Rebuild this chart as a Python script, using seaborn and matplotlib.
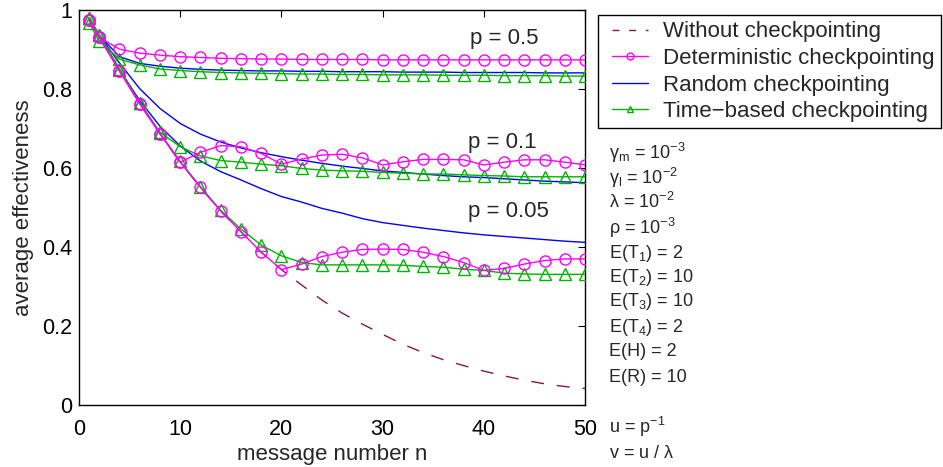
import numpy as np
import pandas as pd
import matplotlib
matplotlib.use("Agg")
import matplotlib.pyplot as plt
from matplotlib.lines import Line2D
from matplotlib.patches import Rectangle
import seaborn as sns

# ---------------- data ----------------
n = [1, 2, 4, 6, 8, 10, 12, 14, 16, 18, 20, 22, 24, 26, 28, 30, 32, 34, 36, 38, 40, 42, 44, 46, 48, 50]

without = [0.975, 0.93, 0.845, 0.762, 0.686, 0.614, 0.55, 0.49, 0.438, 0.386, 0.342, 0.303, 0.265,
           0.232, 0.204, 0.178, 0.153, 0.132, 0.114, 0.099, 0.085, 0.073, 0.062, 0.053, 0.046, 0.041]

det_p05 = [0.975, 0.93, 0.90, 0.89, 0.885, 0.881, 0.879, 0.877, 0.876, 0.875, 0.875, 0.874, 0.874,
           0.874, 0.874, 0.873, 0.873, 0.873, 0.873, 0.873, 0.873, 0.873, 0.873, 0.873, 0.873, 0.873]
rnd_p05 = [0.975, 0.935, 0.881, 0.864, 0.857, 0.852, 0.849, 0.847, 0.846, 0.845, 0.845, 0.844, 0.844,
           0.843, 0.843, 0.843, 0.842, 0.842, 0.842, 0.841, 0.841, 0.841, 0.841, 0.840, 0.840, 0.840]
tim_p05 = [0.966, 0.92, 0.875, 0.86, 0.85, 0.846, 0.843, 0.841, 0.840, 0.839, 0.838, 0.837, 0.837,
           0.836, 0.836, 0.835, 0.835, 0.835, 0.834, 0.834, 0.834, 0.833, 0.833, 0.833, 0.832, 0.832]

det_p01 = [0.975, 0.93, 0.845, 0.762, 0.686, 0.614, 0.639, 0.656, 0.653, 0.636, 0.609, 0.622, 0.632,
           0.634, 0.625, 0.607, 0.615, 0.621, 0.621, 0.620, 0.607, 0.614, 0.620, 0.620, 0.614, 0.607]
rnd_p01 = [0.975, 0.935, 0.865, 0.80, 0.75, 0.712, 0.685, 0.665, 0.65, 0.638, 0.628, 0.619, 0.611,
           0.604, 0.598, 0.592, 0.588, 0.584, 0.58, 0.577, 0.575, 0.572, 0.569, 0.566, 0.564, 0.562]
tim_p01 = [0.98, 0.936, 0.85, 0.765, 0.69, 0.653, 0.63, 0.618, 0.614, 0.609, 0.605, 0.598, 0.594,
           0.592, 0.591, 0.588, 0.586, 0.584, 0.584, 0.582, 0.58, 0.579, 0.577, 0.577, 0.577, 0.577]

det_p005 = [0.975, 0.93, 0.845, 0.762, 0.686, 0.614, 0.55, 0.49, 0.438, 0.386, 0.342, 0.356, 0.375,
            0.386, 0.393, 0.394, 0.393, 0.386, 0.375, 0.36, 0.34, 0.345, 0.356, 0.365, 0.369, 0.369]
rnd_p005 = [0.975, 0.932, 0.848, 0.77, 0.705, 0.655, 0.617, 0.59, 0.569, 0.547, 0.527, 0.513, 0.497,
            0.485, 0.471, 0.461, 0.454, 0.447, 0.441, 0.435, 0.43, 0.426, 0.422, 0.418, 0.414, 0.411]
tim_p005 = [0.98, 0.936, 0.848, 0.764, 0.687, 0.616, 0.552, 0.492, 0.445, 0.404, 0.377, 0.36, 0.354,
            0.354, 0.354, 0.354, 0.353, 0.35, 0.348, 0.343, 0.34, 0.333, 0.331, 0.33, 0.33, 0.33]

legend_labels = ["Without checkpointing", "Deterministic checkpointing",
                 "Random checkpointing", "Time\u2212based checkpointing"]
p_labels = ["p = 0.5", "p = 0.1", "p = 0.05"]
param_lines = [
    r"$\mathrm{\gamma_m}$ = 10$^{\mathrm{-3}}$",
    r"$\mathrm{\gamma_l}$ = 10$^{\mathrm{-2}}$",
    r"$\mathrm{\lambda}$ = 10$^{\mathrm{-2}}$",
    r"$\mathrm{\rho}$ = 10$^{\mathrm{-3}}$",
    r"E(T$_{\mathrm{1}}$) = 2",
    r"E(T$_{\mathrm{2}}$) = 10",
    r"E(T$_{\mathrm{3}}$) = 10",
    r"E(T$_{\mathrm{4}}$) = 2",
    "E(H) = 2",
    "E(R) = 10",
    r"u = p$^{\mathrm{-1}}$",
    r"v = u / $\mathrm{\lambda}$",
]

# ---------------- style ----------------
sns.set_theme(style="white")
plt.rcParams["font.family"] = ["Liberation Sans", "DejaVu Sans"]
plt.rcParams["mathtext.fontset"] = "custom"
plt.rcParams["mathtext.rm"] = "Liberation Sans"
plt.rcParams["mathtext.it"] = "Liberation Sans:italic"
plt.rcParams["mathtext.bf"] = "Liberation Sans:bold"
plt.rcParams["axes.unicode_minus"] = True

C_WO = "#851745"
C_DET = "#FF00FF"
C_RND = "#0000FF"
C_TIM = "#00B400"
DASH = (0, (9.3, 9.3))

W, H = 943, 467
fig = plt.figure(figsize=(W / 100, H / 100), dpi=100)
ax = fig.add_axes([79 / W, 1 - 404.7 / H, (585 - 79) / W, (404.7 - 9.7) / H])

mk = dict(markersize=8, fillstyle="none", markeredgewidth=1.0)

# without checkpointing
sns.lineplot(x=n, y=without, ax=ax, color=C_WO, lw=1.0, linestyle=DASH, zorder=1)

for det, rnd, tim in [(det_p05, rnd_p05, tim_p05), (det_p01, rnd_p01, tim_p01), (det_p005, rnd_p005, tim_p005)]:
    sns.lineplot(x=n, y=rnd, ax=ax, color=C_RND, lw=1.0, zorder=2)
    sns.lineplot(x=n, y=tim, ax=ax, color=C_TIM, lw=1.0, marker="^", markeredgecolor=C_TIM, zorder=3, **mk)
    sns.lineplot(x=n, y=det, ax=ax, color=C_DET, lw=1.0, marker="o", markeredgecolor=C_DET, zorder=4, **mk)

ax.set_xlim(0, 50)
ax.set_ylim(0, 1)
ax.set_xticks([0, 10, 20, 30, 40, 50])
ax.set_yticks([0, 0.2, 0.4, 0.6, 0.8, 1.0])
ax.set_yticklabels(["0", "0.2", "0.4", "0.6", "0.8", "1"])
ax.tick_params(direction="in", length=5, width=0.8, top=True, right=True, labelsize=15.5,
               colors="black")
ax.tick_params(axis="x", pad=10.5)
ax.tick_params(axis="y", pad=5)
for s in ax.spines.values():
    s.set_color("black")
    s.set_linewidth(1.0)
ax.set_xlabel("message number n", fontsize=16, labelpad=2.5)
ax.set_ylabel("average effectiveness", fontsize=16, labelpad=6)

ax.text(38.6, 0.926, p_labels[0], fontsize=16, ha="left", va="center")
ax.text(38.4, 0.665, p_labels[1], fontsize=16, ha="left", va="center")
ax.text(38.4, 0.488, p_labels[2], fontsize=16, ha="left", va="center")

handles = [
    Line2D([], [], color=C_WO, lw=1.0, linestyle=(0, (5, 7))),
    Line2D([], [], color=C_DET, lw=1.0, marker="o", markersize=5, fillstyle="none"),
    Line2D([], [], color=C_RND, lw=1.0),
    Line2D([], [], color=C_TIM, lw=1.0, marker="^", markersize=5, fillstyle="none"),
]
leg = fig.legend(handles, legend_labels, loc="upper left",
                 bbox_to_anchor=(612 / W, 1 - 21.5 / H), fontsize=16, frameon=False,
                 handlelength=1.62, handletextpad=0.68,
                 labelspacing=0.25, borderpad=0, borderaxespad=0)
fig.patches.append(Rectangle((598 / W, 1 - 128 / H), (941 - 598) / W, (128 - 15) / H,
                             transform=fig.transFigure, fill=False, edgecolor="black",
                             linewidth=1.0, zorder=5))

ys = [153, 178, 202, 228, 253, 277, 302, 327, 352, 378, 427, 453]
for txt, yy in zip(param_lines, ys):
    fig.text(609 / W, 1 - yy / H, txt, fontsize=13, ha="left", va="center")

fig.savefig("out.png", dpi=100)
